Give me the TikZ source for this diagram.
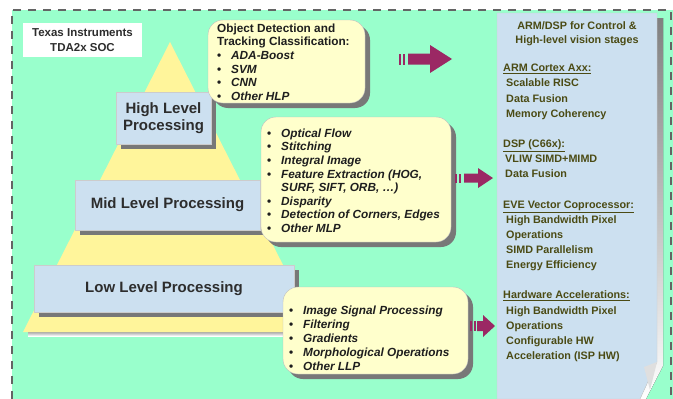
\documentclass[tikz,border=0pt]{standalone}
\usepackage{fontspec}
\setmainfont{Liberation Sans}
\usetikzlibrary{shadows}
\definecolor{mint}{RGB}{153,255,204}
\definecolor{pyr}{RGB}{255,245,155}
\definecolor{boxblue}{RGB}{204,224,240}
\definecolor{cream}{RGB}{255,255,204}
\definecolor{shade}{RGB}{120,120,120}
\definecolor{arrowcol}{RGB}{155,40,100}
\definecolor{olivetxt}{RGB}{75,75,20}
\definecolor{dashcol}{RGB}{100,100,100}
\definecolor{txt}{RGB}{30,30,30}
\definecolor{lbltxt}{RGB}{45,45,45}
\newcommand\bul{\makebox[14pt][l]{\upshape\textbullet}}
\newcommand\striparrow[7]{%
  \fill[arrowcol] (#1,#2-#6) rectangle (#1+2,#2+#6);
  \fill[arrowcol] (#1+4,#2-#6) rectangle (#1+6,#2+#6);
  \fill[arrowcol] (#3,#2-#6) -- (#4,#2-#6) -- (#4,#2-#7) -- (#5,#2) -- (#4,#2+#7) -- (#4,#2+#6) -- (#3,#2+#6) -- cycle;}
\begin{document}
\begin{tikzpicture}[x=1pt,y=-1pt,
  shad/.style={drop shadow={shadow xshift=5pt,shadow yshift=-5pt,fill=shade,opacity=1}},
  levelbox/.style={fill=boxblue,draw=gray!40,line width=0.4pt,shad,align=center,
    font=\fontsize{15}{17}\selectfont\bfseries,text=lbltxt,inner sep=0pt},
  calloutbox/.style={fill=cream,draw=gray!50,line width=0.4pt,rounded corners=15pt,shad},
  ctext/.style={font=\fontsize{11.8}{13.6}\selectfont\bfseries,align=left,inner sep=0pt,text=txt,anchor=north west},
  ptext/.style={font=\fontsize{10.8}{15.15}\selectfont\bfseries,inner sep=0pt,text=olivetxt}]
\useasboundingbox (0,0) rectangle (673,399);
% background
\fill[mint] (12,10) rectangle (673,399);
\draw[dashcol,line width=1.5pt,dash pattern=on 8pt off 7pt] (12,399) -- (12,10) -- (671,10) -- (671,399);
% title box
\fill[white] (23,23) rectangle (142,57);
\node[font=\fontsize{11.5}{15}\selectfont\bfseries,align=center,text=lbltxt] (ti) at (82.5,40) {Texas Instruments\\TDA2x SOC};
% pyramid
\fill[shade] (28,330) rectangle (322,336);
\fill[pyr] (170,42) -- (317,332) -- (23,332) -- cycle;
% levels
\node[levelbox,minimum width=95pt,minimum height=52pt] (high) at (163.5,118) {High Level\\Processing};
\node[levelbox,minimum width=185pt,minimum height=50pt] (mid) at (167.5,205) {Mid Level Processing};
\node[levelbox,minimum width=260pt,minimum height=47pt] (low) at (164,288.5) {Low Level Processing};
% callouts
\path[calloutbox] (208,20) rectangle (365,103);
\node[ctext] (hlp) at (217,23.5) {Object Detection and\\Tracking Classification:\\
\bul\textit{ADA-Boost}\\\bul\textit{SVM}\\\bul\textit{CNN}\\\bul\textit{Other HLP}};
\path[calloutbox] (261,117) rectangle (451,242);
\node[ctext] (mlp) at (267,128.5) {\bul\textit{Optical Flow}\\\bul\textit{Stitching}\\\bul\textit{Integral Image}\\
\bul\textit{Feature Extraction (HOG,}\\\hspace*{14pt}\textit{SURF, SIFT, ORB, \dots)}\\\bul\textit{Disparity}\\
\bul\textit{Detection of Corners, Edges}\\\bul\textit{Other MLP}};
\path[calloutbox] (283,287) rectangle (468,374);
\node[ctext,font=\fontsize{11.8}{14}\selectfont\bfseries] (llp) at (289,305.5) {\bul\textit{Image Signal Processing}\\\bul\textit{Filtering}\\
\bul\textit{Gradients}\\\bul\textit{Morphological Operations}\\\bul\textit{Other LLP}};
% arrows
\striparrow{399}{59}{408}{430}{452}{5.5}{14}
\striparrow{455}{178}{464}{478}{493}{4.5}{10}
\striparrow{470}{326}{477}{483}{495}{5}{11}
% right panel
\fill[shade] (657,18) -- (663,18) -- (663,366) -- (646,399) -- (640,399) -- (657,362) -- cycle;
\filldraw[fill=boxblue,draw=gray!40,line width=0.4pt] (497,13) -- (657,13) -- (657,362) -- (640,399) -- (497,399) -- cycle;
\fill[gray!25] (644,367) -- (657,362) -- (650,390) -- cycle;
\node[ptext,align=center,font=\fontsize{10.8}{14}\selectfont\bfseries,anchor=north] (phead) at (577,21) {ARM/DSP for Control \&\\High-level vision stages};
\node[ptext,align=left,anchor=north west] (pbody) at (503,64) {\underline{ARM Cortex Axx:}\\
\hspace*{3pt}Scalable RISC\\\hspace*{3pt}Data Fusion\\\hspace*{3pt}Memory Coherency\\[15.15pt]
\underline{DSP (C66x):}\\\hspace*{2pt}VLIW SIMD+MIMD\\\hspace*{2pt}Data Fusion\\[15.15pt]
\underline{EVE Vector Coprocessor:}\\\hspace*{3pt}High Bandwidth Pixel\\\hspace*{3pt}Operations\\\hspace*{3pt}SIMD Parallelism\\\hspace*{3pt}Energy Efficiency\\[15.15pt]
\underline{Hardware Accelerations:}\\\hspace*{3pt}High Bandwidth Pixel\\\hspace*{3pt}Operations\\\hspace*{3pt}Configurable HW\\\hspace*{3pt}Acceleration (ISP HW)};
\end{tikzpicture}
\end{document}
